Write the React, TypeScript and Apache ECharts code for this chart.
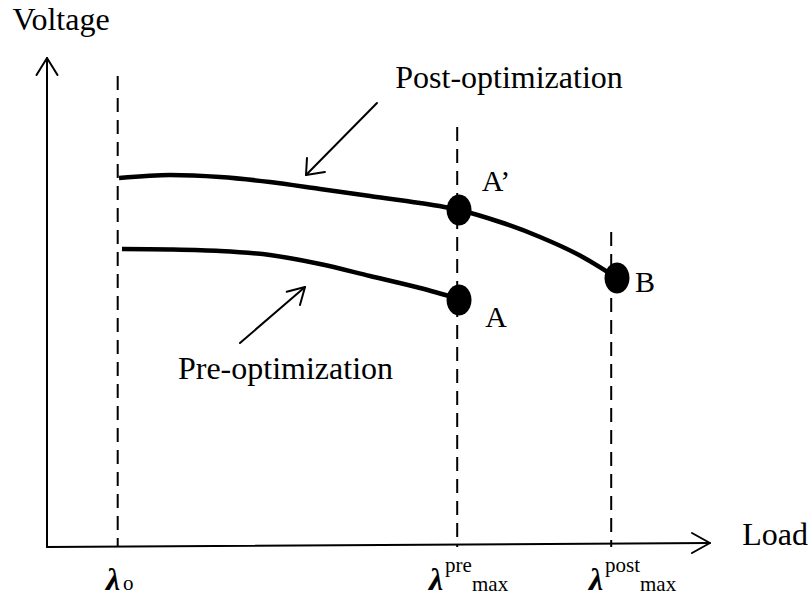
import React, { useEffect, useRef } from "react";
import * as echarts from "echarts";

// ---- data (schematic units: load on x, voltage on y) ----
const xAxisName = "Load";
const yAxisName = "Voltage";
const curveNames = ["Post-optimization", "Pre-optimization"];
const lambdaSymbol = "λ";
const lambdaSups = ["", "pre", "post"];
const lambdaSubs = ["o", "max", "max"];
const lambdaValues = [10.1, 58.6, 80.6]; // λo, λpre_max, λpost_max
const lambdaDashTops = [94.2, 84.0, 63.0];

const postX = [10.29, 17.57, 24.71, 31.86, 39.0, 46.14, 53.29, 58.86, 64.71, 70.43, 76.14, 81.43];
const postV = [73.8, 74.4, 74.0, 73.0, 71.6, 70.2, 68.8, 67.4, 65.0, 62.0, 58.3, 53.8];

const preX = [10.71, 17.57, 24.71, 31.86, 39.0, 46.14, 53.29, 58.86];
const preV = [59.6, 59.5, 59.2, 58.4, 56.6, 54.2, 51.8, 49.6];

const pointNames = ["A\u2019", "A", "B"];
const pointX = [58.86, 58.86, 81.43];
const pointV = [67.4, 49.4, 53.8];

const FONT = "'Liberation Serif', 'Times New Roman', serif";
const INK = "#000";

function zip(xs: number[], ys: number[]) {
  return xs.map((x, i) => [x, ys[i]]);
}

function seg(data: number[][], width = 2) {
  return {
    type: "line",
    data,
    symbol: "none",
    silent: true,
    clip: false,
    z: 3,
    lineStyle: { color: INK, width, cap: "round", join: "round", opacity: 1 },
  };
}

function textItem(
  value: number[],
  text: string,
  fontSize: number,
  extra: Record<string, any> = {}
) {
  return {
    value,
    label: {
      show: true,
      position: "inside",
      formatter: text,
      fontSize,
      fontFamily: FONT,
      color: INK,
      opacity: 1,
      ...extra,
    },
  };
}

export default function App() {
  const ref = useRef<HTMLDivElement | null>(null);

  useEffect(() => {
    if (!ref.current) return;
    const chart = echarts.init(ref.current, undefined, { renderer: "svg" });

    const dashed = lambdaValues.map((x, i) => ({
      type: "line",
      data: [
        [x, lambdaDashTops[i]],
        [x, 0],
      ],
      symbol: "none",
      silent: true,
      clip: false,
      z: 2,
      lineStyle: { color: INK, width: 2, type: [14, 8] },
    }));

    const lambdaText: any[] = [];
    const lambdaGlyphX = [9.43, 55.57, 78.43];
    lambdaGlyphX.forEach((x) =>
      lambdaText.push(
        textItem([x, -6.4], lambdaSymbol, 32, { fontWeight: "bold", fontStyle: "italic" })
      )
    );
    const supX = [0, 56.86, 79.71];
    lambdaSups.forEach((s, i) => {
      if (s) lambdaText.push(textItem([supX[i], -3.68], s, 21, { align: "left" }));
    });
    const subX = [10.86, 60.71, 84.71];
    const subV = [-7.12, -7.38, -7.38];
    lambdaSubs.forEach((s, i) =>
      lambdaText.push(textItem([subX[i], subV[i]], s, 21, { align: "left" }))
    );

    const curve = (name: string, data: number[][]) => ({
      type: "line",
      name,
      data,
      smooth: 0.3,
      symbol: "none",
      silent: true,
      clip: false,
      z: 4,
      lineStyle: { color: INK, width: 4.5, opacity: 1 },
    });

    const option: any = {
      animation: false,
      grid: { left: 12, top: 47, width: 735, height: 500, containLabel: false },
      xAxis: { type: "value", min: -5, max: 100, show: false },
      yAxis: { type: "value", min: 0, max: 100, show: false },
      series: [
        // axes with open arrowheads
        seg([[0, 0], [94.71, 0.8]]),
        seg([[92.14, 2.8], [94.71, 0.8], [92.14, -1.2]]),
        seg([[0, 0], [0, 97.8]]),
        seg([[-1.5, 94.4], [0, 97.8], [1.5, 94.4]]),
        ...dashed,
        // curves
        curve(curveNames[0], zip(postX, postV)),
        curve(curveNames[1], zip(preX, preV)),
        // annotation arrows
        seg([[47.14, 88.8], [37.0, 74.4]], 2),
        seg([[37.14, 77.8], [37.0, 74.4], [39.71, 75.0]], 2),
        seg([[27.57, 40.8], [36.86, 52.0]], 2),
        seg([[34.24, 51.06], [36.86, 52.0], [36.14, 48.4]], 2),
        // operating points
        {
          type: "scatter",
          data: pointNames.map((n, i) => ({
            name: n,
            value: [pointX[i], pointV[i]],
            label: {
              show: true,
              position: "inside",
              formatter: n,
              fontSize: 30,
              fontFamily: FONT,
              color: INK,
              opacity: 1,
              offset: i === 0 ? [37, -30] : i === 1 ? [37, 16] : [28, 3],
            },
          })),
          symbol: "circle",
          symbolSize: [25, 31],
          itemStyle: { color: INK, opacity: 1 },
          silent: true,
          clip: false,
          z: 6,
        },
        // texts
        {
          type: "scatter",
          symbolSize: 0,
          silent: true,
          clip: false,
          z: 7,
          itemStyle: { color: "rgba(0,0,0,0)", opacity: 1 },
          data: [
            textItem([2.0, 105.6], yAxisName, 32),
            textItem([104.0, 2.6], xAxisName, 32),
            textItem([66.0, 94.0], curveNames[0], 32),
            textItem([34.07, 35.9], curveNames[1], 32),
            ...lambdaText,
          ],
        },
      ],
    };

    chart.setOption(option);
    return () => chart.dispose();
  }, []);

  return (
    <div
      ref={ref}
      style={{ position: "fixed", left: 0, top: 0, width: 809, height: 596, background: "#fff" }}
    />
  );
}
